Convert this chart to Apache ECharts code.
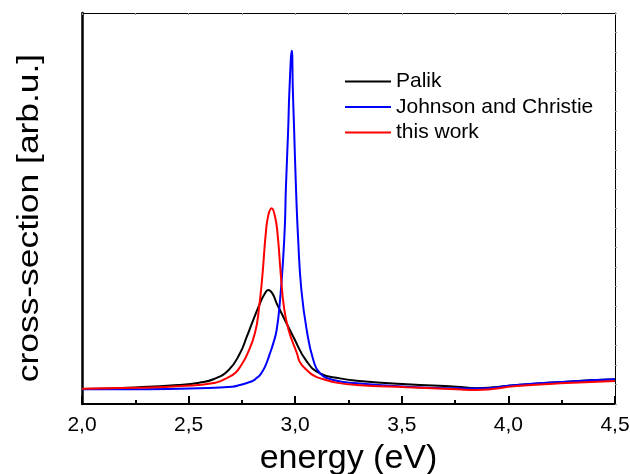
<!DOCTYPE html>
<html><head><meta charset="utf-8">
<script src="https://cdn.jsdelivr.net/npm/echarts@6/dist/echarts.min.js"></script>
<style>html,body{margin:0;padding:0;background:#fff}#c{width:630px;height:474px}</style>
</head><body><div id="c"></div>
<script>
// Palik
const palikE = [2.000,2.250,2.450,2.550,2.620,2.688,2.741,2.773,2.803,2.835,2.855,2.874,2.893,2.913,2.944,2.991,3.054,3.116,3.210,3.288,3.523,3.757,3.851,4.039,4.273,4.500];
const palikV = [3.84,4.25,4.85,5.45,6.40,8.70,12.97,17.21,21.48,25.75,28.0,29.16,28.3,25.75,22.33,17.21,10.9,7.85,6.55,5.96,5.04,4.42,4.05,4.86,5.70,6.32];
// Johnson and Christie
const jcE = [2.000,2.300,2.550,2.704,2.741,2.780,2.803,2.820,2.835,2.858,2.882,2.897,2.913,2.929,2.944,2.952,2.956,2.967,2.973,2.984,2.989,2.995,3.004,3.014,3.029,3.054,3.085,3.116,3.179,3.288,3.523,3.757,3.851,4.039,4.273,4.500];
const jcV = [3.76,3.80,4.05,4.42,4.86,5.5,6.0,6.7,7.4,9.5,13.0,15.5,18.93,26.60,37.67,46.21,54.73,70.08,80.31,90.36,80.31,70.08,54.73,41.94,29.16,18.93,11.25,7.85,6.14,5.29,4.42,4.01,3.96,4.86,5.70,6.32];
// this work
const twE = [2.000,2.250,2.469,2.626,2.688,2.720,2.745,2.773,2.811,2.831,2.847,2.862,2.874,2.889,2.904,2.917,2.932,2.947,2.969,3.008,3.023,3.054,3.085,3.133,3.200,3.288,3.523,3.757,3.851,4.039,4.273,4.500];
const twV = [3.91,4.15,4.60,5.45,6.9,8.0,9.8,12.50,18.08,24.88,33.43,43.66,48.3,50.05,48.3,43.66,33.43,24.88,18.93,12.97,10.6,8.70,7.3,6.32,5.4,4.86,4.27,3.76,3.58,4.60,5.37,5.88];
const xTicks = [2.0,2.5,3.0,3.5,4.0,4.5];
const seriesNames = ['Palik','Johnson and Christie','this work'];
const yTitle = 'cross-section [arb.u.]';
const xTitle = 'energy (eV)';

const pairs = (e,v)=>e.map((x,i)=>[x,v[i]]);
const font = 'Liberation Sans, Arial, sans-serif';
const chart = echarts.init(document.getElementById('c'), null, {renderer:'canvas'});
chart.setOption({
  animation:false,
  backgroundColor:'#fff',
  grid:{left:82,right:15,top:13,bottom:70,outerBoundsMode:'none',containLabel:false},
  legend:{
    orient:'vertical', left:340, top:66, itemWidth:46, itemHeight:2, itemGap:4.5,
    icon:'rect',
    textStyle:{fontFamily:font,fontSize:21,color:'#000',lineHeight:21},
    data:seriesNames
  },
  graphic:[{
    type:'text', x:30, y:218, rotation:Math.PI/2, scaleX:1.22, scaleY:1,
    style:{text:yTitle, font:'29px '+font, fill:'#000', align:'center', verticalAlign:'middle'}
  }],
  xAxis:[{
    type:'value', min:2, max:4.5, interval:0.5, position:'bottom',
    name:xTitle, nameLocation:'middle', nameGap:38,
    nameTextStyle:{fontFamily:font,fontSize:34,color:'#000'},
    axisLine:{lineStyle:{color:'#000',width:2}},
    axisTick:{inside:true,length:8,lineStyle:{color:'#000',width:2}},
    minorTick:{show:true,splitNumber:2,length:4,lineStyle:{color:'#000',width:2}},
    axisLabel:{fontFamily:font,fontSize:21,color:'#000',margin:11,
      formatter:v=>xTicks.includes(+v.toFixed(1))?v.toFixed(1).replace('.',','):''},
    splitLine:{show:false}
  },{
    type:'value', min:2, max:4.5, interval:0.25, position:'top',
    axisLine:{onZero:false,lineStyle:{color:'#000',width:1}},
    axisTick:{inside:true,length:2,lineStyle:{color:'#999',width:1}},
    axisLabel:{show:false}, splitLine:{show:false}
  }],
  yAxis:[{
    type:'value', min:0, max:100, interval:20,
    axisLine:{show:true,lineStyle:{color:'#000',width:2.5}},
    axisTick:{show:false}, axisLabel:{show:false}, splitLine:{show:false}
  },{
    type:'value', min:0, max:100, interval:5, position:'right',
    axisLine:{show:true,onZero:false,lineStyle:{color:'#000',width:1}},
    axisTick:{show:true,inside:false,length:2,lineStyle:{color:'#999',width:1}},
    axisLabel:{show:false}, splitLine:{show:false}
  }],
  series:[
    {name:seriesNames[0],type:'line',data:pairs(palikE,palikV),showSymbol:false,smooth:0.5,
      lineStyle:{color:'#000',width:2},itemStyle:{color:'#000'}},
    {name:seriesNames[1],type:'line',data:pairs(jcE,jcV),showSymbol:false,smooth:0.5,
      lineStyle:{color:'#0000ff',width:2},itemStyle:{color:'#0000ff'}},
    {name:seriesNames[2],type:'line',data:pairs(twE,twV),showSymbol:false,smooth:0.5,
      lineStyle:{color:'#ff0000',width:2},itemStyle:{color:'#ff0000'}}
  ]
});
</script></body></html>
